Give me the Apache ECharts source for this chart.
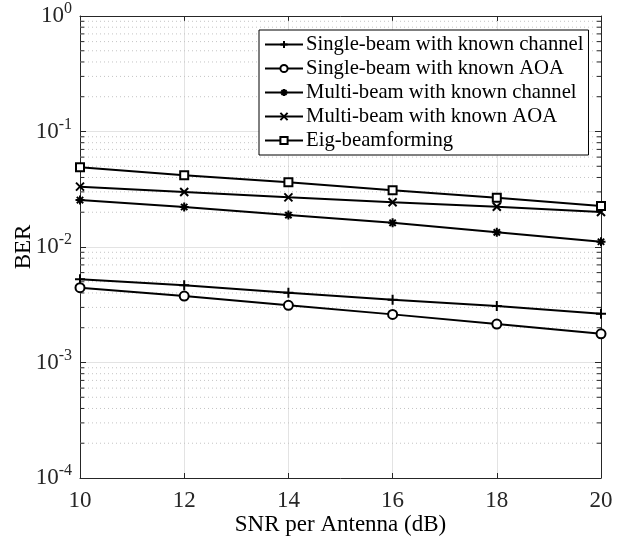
<!DOCTYPE html>
<html>
<head>
<meta charset="utf-8">
<script src="https://cdn.jsdelivr.net/npm/echarts@6/dist/echarts.min.js"></script>
<style>
  html, body { margin: 0; padding: 0; background: #fff; }
  #main { width: 623px; height: 536px; }
</style>
</head>
<body>
<div id="main"></div>
<script>
  // x axis values (dB)
  var snr = [10, 12, 14, 16, 18, 20];

  // BER curves
  var singleChannel = [0.00525, 0.00466, 0.00402, 0.00350, 0.00308, 0.00264];
  var singleAoa = [0.00444, 0.00376, 0.00313, 0.00261, 0.00215, 0.00177];
  var multiChannel = [0.0255, 0.0222, 0.0189, 0.0162, 0.0134, 0.0111];
  var multiAoa = [0.0333, 0.0299, 0.0269, 0.0244, 0.0223, 0.0201];
  var eigBf = [0.0490, 0.0418, 0.0363, 0.0310, 0.0267, 0.0226];

  var names = [
    'Single-beam with known channel',
    'Single-beam with known AOA',
    'Multi-beam with known channel',
    'Multi-beam with known AOA',
    'Eig-beamforming'
  ];

  // minor ticks of the log axis (2..9 x 10^k)
  var minorTicks = [];
  for (var e = -4; e < 0; e++) {
    for (var m = 2; m <= 9; m++) {
      minorTicks.push(m * Math.pow(10, e));
    }
  }

  var font = 'Liberation Serif, Times New Roman, serif';
  var symPlus = 'path://M0,5L10,5M5,0L5,10';
  var symCross = 'path://M0,0L10,10M10,0L0,10';
  var symStar = 'path://M0,5L10,5M5,0L5,10M1.5,1.5L8.5,8.5M8.5,1.5L1.5,8.5';

  function pairs(ys) {
    return snr.map(function (x, i) { return [x, ys[i]]; });
  }

  function curve(name, ys, symbol, size) {
    return {
      name: name,
      type: 'line',
      data: pairs(ys),
      symbol: symbol,
      symbolSize: size,
      showAllSymbol: true,
      z: 5,
      color: '#000',
      lineStyle: { color: '#000', width: 2 },
      itemStyle: { color: '#000', borderColor: '#000', borderWidth: 2 },
      emphasis: { disabled: true },
      animation: false
    };
  }

  // dotted minor grid: one broken line through all minor values
  var minorGrid = [];
  minorTicks.forEach(function (v) {
    minorGrid.push([10, v], [20, v], [20, '-']);
  });
  // short minor tick marks on left and right edges
  var minorMarks = [];
  minorTicks.forEach(function (v) {
    minorMarks.push([10, v], [10.08, v], [10.08, '-']);
    minorMarks.push([19.92, v], [20, v], [20, '-']);
  });

  function helper(name, data, style, z) {
    return {
      name: name,
      type: 'line',
      data: data,
      symbol: 'none',
      silent: true,
      connectNulls: false,
      z: z,
      lineStyle: style,
      emphasis: { disabled: true },
      animation: false
    };
  }

  var chart = echarts.init(document.getElementById('main'));
  var option = {
    backgroundColor: '#fff',
    animation: false,
    textStyle: { fontFamily: font },
    grid: { left: 80, right: 22, top: 16, bottom: 58, containLabel: false, outerBoundsMode: 'none' },
    legend: {
      data: names,
      orient: 'vertical',
      left: 259,
      top: 30,
      padding: [4, 5, 4, 5],
      itemGap: 3,
      itemWidth: 38,
      itemHeight: 9,
      backgroundColor: '#fff',
      borderColor: '#000',
      borderWidth: 1,
      borderRadius: 0,
      textStyle: { fontFamily: font, fontSize: 20.7, color: '#000', padding: [0, 0, 0, -2] }
    },
    xAxis: [{
      type: 'value',
      min: 10,
      max: 20,
      interval: 2,
      name: 'SNR per Antenna (dB)',
      nameLocation: 'middle',
      nameGap: 35,
      nameMoveOverlap: false,
      nameTextStyle: { fontFamily: font, fontSize: 23, color: '#000' },
      axisLine: { lineStyle: { color: '#262626', width: 1 } },
      axisTick: { inside: true, length: 5, lineStyle: { color: '#262626' } },
      axisLabel: { fontFamily: font, fontSize: 23, color: '#262626', margin: 11 },
      splitLine: { show: true, lineStyle: { color: '#e3e3e3', width: 1 } }
    }, {
      type: 'value',
      position: 'top',
      min: 10,
      max: 20,
      interval: 2,
      axisLine: { show: true, lineStyle: { color: '#262626', width: 1 } },
      axisTick: { show: true, inside: true, length: 5, lineStyle: { color: '#262626' } },
      axisLabel: { show: false },
      splitLine: { show: false }
    }],
    yAxis: [{
      type: 'log',
      logBase: 10,
      min: 1e-4,
      max: 1,
      interval: 1,
      name: 'BER',
      nameLocation: 'middle',
      nameGap: 45,
      nameMoveOverlap: false,
      nameTextStyle: { fontFamily: font, fontSize: 23, color: '#000' },
      axisLine: { show: true, lineStyle: { color: '#262626', width: 1 } },
      axisTick: { show: true, inside: true, length: 6, lineStyle: { color: '#262626' } },
      axisLabel: {
        fontFamily: font,
        fontSize: 23,
        color: '#262626',
        margin: 8,
        formatter: function (v) {
          return '10{s|' + Math.round(Math.log10(v)) + '}';
        },
        rich: {
          s: { fontFamily: font, fontSize: 16, color: '#262626', padding: [0, 0, 14, 0] }
        }
      },
      splitLine: { show: true, lineStyle: { color: '#e3e3e3', width: 1 } }
    }, {
      type: 'log',
      logBase: 10,
      min: 1e-4,
      max: 1,
      interval: 1,
      position: 'right',
      axisLine: { show: true, lineStyle: { color: '#262626', width: 1 } },
      axisTick: { show: true, inside: true, length: 6, lineStyle: { color: '#262626' } },
      axisLabel: { show: false },
      splitLine: { show: false }
    }],
    series: [
      helper('minor grid', minorGrid, { color: '#c4c4c4', type: [1, 3], width: 1 }, 1),
      helper('minor ticks', minorMarks, { color: '#262626', type: 'solid', width: 1 }, 2),
      curve(names[0], singleChannel, symPlus, 10),
      curve(names[1], singleAoa, 'emptyCircle', 9),
      curve(names[2], multiChannel, symStar, 9),
      curve(names[3], multiAoa, symCross, 8),
      curve(names[4], eigBf, 'emptyRect', 8)
    ]
  };
  chart.setOption(option);
</script>
</body>
</html>
